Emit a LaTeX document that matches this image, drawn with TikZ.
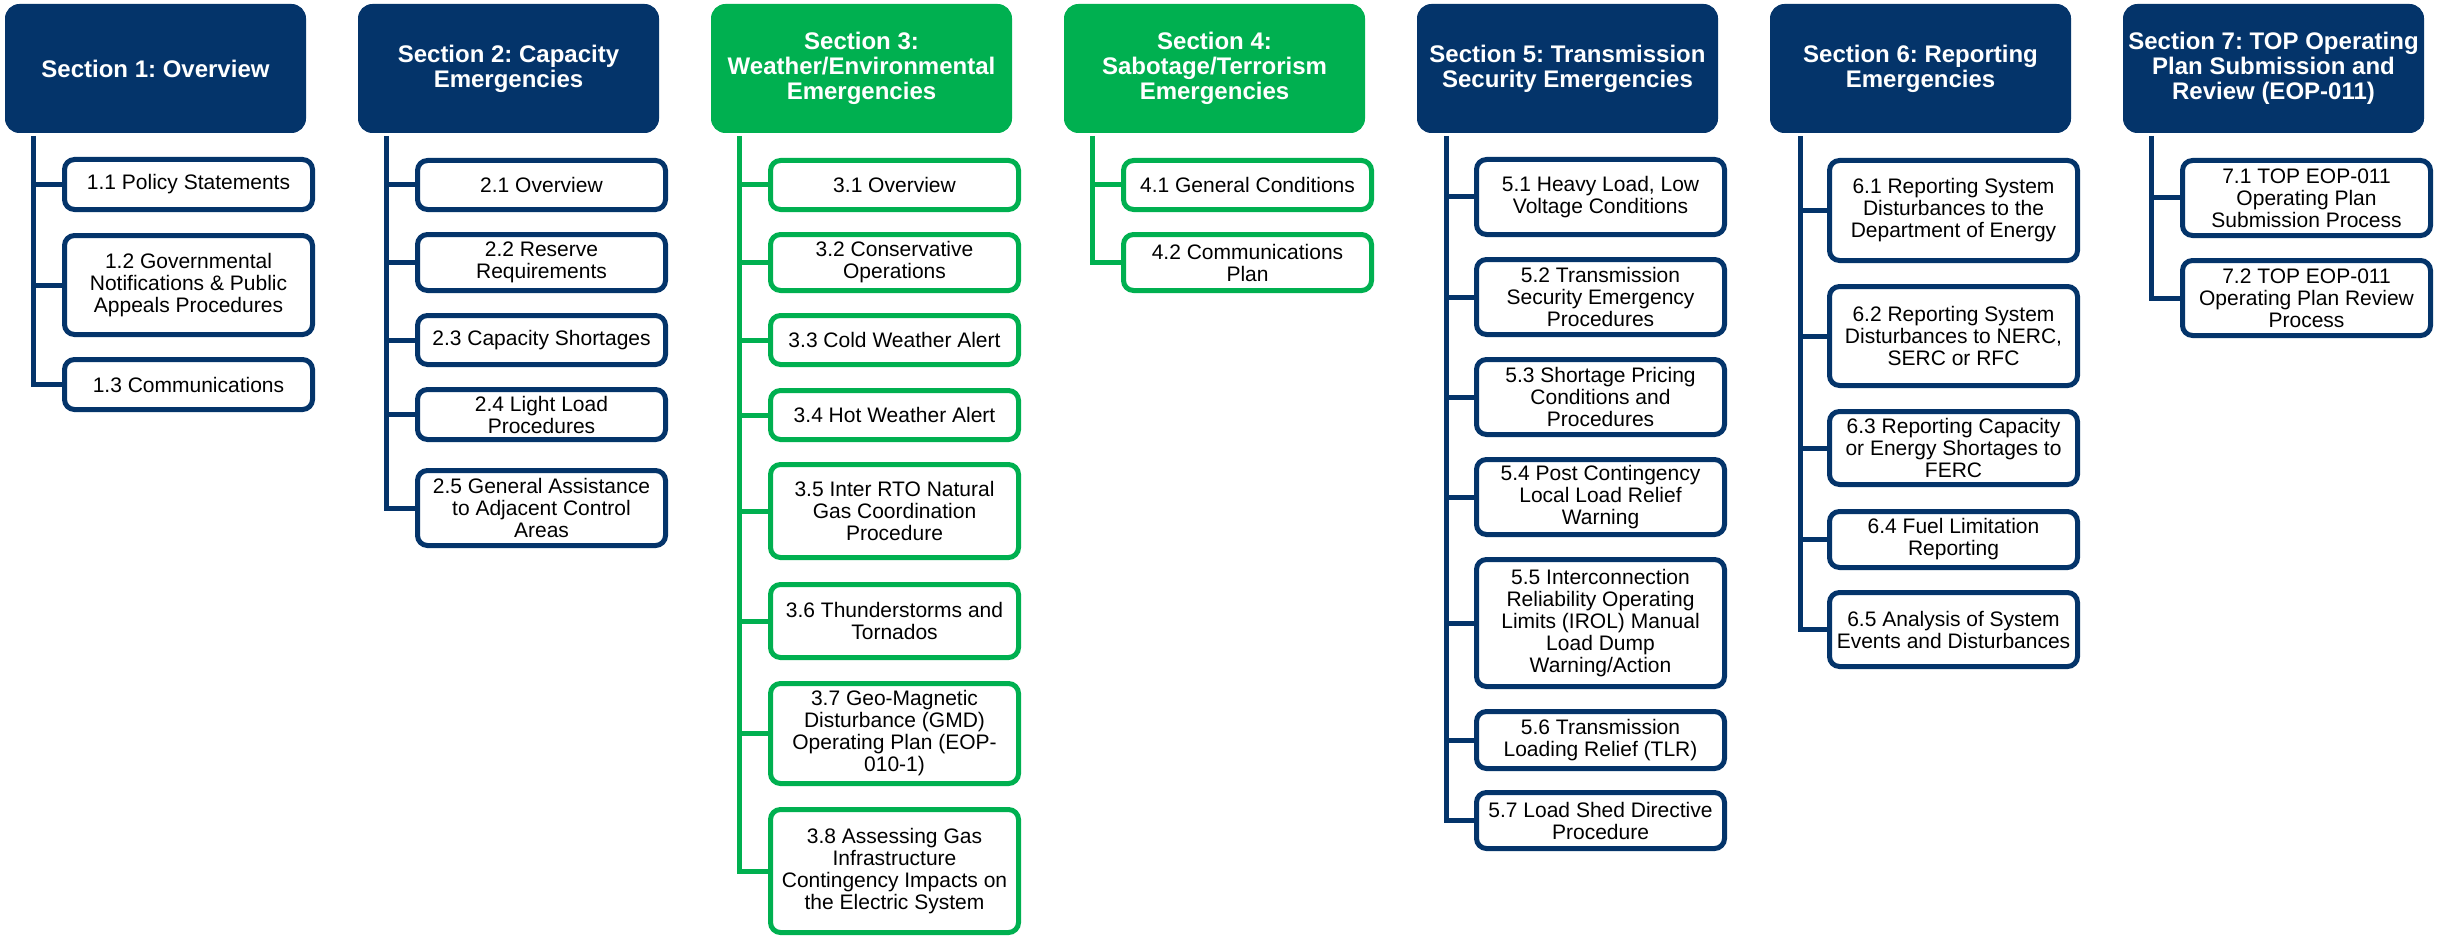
\documentclass[tikz,border=0pt]{standalone}
\usepackage{fontspec}
\setmainfont{Liberation Sans}
\frenchspacing
\definecolor{navy}{HTML}{04346A}
\definecolor{leaf}{HTML}{00B050}

\begin{document}
\begin{tikzpicture}[x=1pt, y=-1pt,
      head/.style={fill=#1, draw=#1, line width=1pt, rounded corners=14pt, minimum width=300pt, minimum height=128pt,
        align=center, text=white, font=\fontsize{24}{25}\selectfont\bfseries, inner sep=2pt},
      sub/.style={draw=#1, fill=white, line width=5pt, rounded corners=10pt, minimum width=248pt,
        align=center, font=\fontsize{21}{22}\selectfont, inner sep=2pt},
      stem/.style={draw=#1, line width=5pt}]

    \useasboundingbox (0,0) rectangle (2440,936);

    % Section 1
    \node[head=navy] (h1) at (155.5,68.5) {Section 1: Overview};
    \node[sub=navy, minimum height=50pt] (s11) at (188.5,184.5) {1.1 Policy Statements};
    \node[sub=navy, minimum height=99pt] (s12) at (188.5,285) {1.2 Governmental\\Notifications \& Public\\Appeals Procedures};
    \node[sub=navy, minimum height=50pt] (s13) at (188.5,384.5) {1.3 Communications};
    \coordinate (t1) at (33,136);
    \draw[stem=navy] (t1) |- (s11.west) (t1) |- (s12.west) (t1) |- (s13.west);

    % Section 2
    \node[head=navy] (h2) at (508.5,68.5) {Section 2: Capacity\\Emergencies};
    \node[sub=navy, minimum height=49pt] (s21) at (541.5,185) {2.1 Overview};
    \node[sub=navy, minimum height=56pt] (s22) at (541.5,262.5) {2.2 Reserve\\Requirements};
    \node[sub=navy, minimum height=49pt] (s23) at (541.5,340) {2.3 Capacity Shortages};
    \node[sub=navy, minimum height=50pt] (s24) at (541.5,414.5) {2.4 Light Load\\Procedures};
    \node[sub=navy, minimum height=75pt] (s25) at (541.5,508) {2.5 General Assistance\\to Adjacent Control\\Areas};
    \coordinate (t2) at (386,136);
    \draw[stem=navy] (t2) |- (s21.west) (t2) |- (s22.west) (t2) |- (s23.west) (t2) |- (s24.west) (t2) |- (s25.west);

    % Section 3
    \node[head=leaf] (h3) at (861.5,68.5) {Section 3:\\Weather/Environmental\\Emergencies};
    \node[sub=leaf, minimum height=49pt] (s31) at (894.5,185) {3.1 Overview};
    \node[sub=leaf, minimum height=56pt] (s32) at (894.5,262.5) {3.2 Conservative\\Operations};
    \node[sub=leaf, minimum height=49pt] (s33) at (894.5,340) {3.3 Cold Weather Alert};
    \node[sub=leaf, minimum height=49pt] (s34) at (894.5,415) {3.4 Hot Weather Alert};
    \node[sub=leaf, minimum height=93pt] (s35) at (894.5,511) {3.5 Inter RTO Natural\\Gas Coordination\\Procedure};
    \node[sub=leaf, minimum height=73pt] (s36) at (894.5,621) {3.6 Thunderstorms and\\Tornados};
    \node[sub=leaf, minimum height=100pt] (s37) at (894.5,733.5) {3.7 Geo-Magnetic\\Disturbance (GMD)\\Operating Plan (EOP-\\010-1)};
    \node[sub=leaf, minimum height=123pt] (s38) at (894.5,871) {3.8 Assessing Gas\\Infrastructure\\Contingency Impacts on\\the Electric System};
    \coordinate (t3) at (739,136);
    \draw[stem=leaf] (t3) |- (s31.west) (t3) |- (s32.west) (t3) |- (s33.west) (t3) |- (s34.west)
      (t3) |- (s35.west) (t3) |- (s36.west) (t3) |- (s37.west) (t3) |- (s38.west);

    % Section 4
    \node[head=leaf] (h4) at (1214.5,68.5) {Section 4:\\Sabotage/Terrorism\\Emergencies};
    \node[sub=leaf, minimum height=49pt] (s41) at (1247.5,185) {4.1 General Conditions};
    \node[sub=leaf, minimum height=56pt] (s42) at (1247.5,262.5) {4.2 Communications\\Plan};
    \coordinate (t4) at (1092,136);
    \draw[stem=leaf] (t4) |- (s41.west) (t4) |- (s42.west);

    % Section 5
    \node[head=navy] (h5) at (1567.5,68.5) {Section 5: Transmission\\Security Emergencies};
    \node[sub=navy, minimum height=75pt] (s51) at (1600.5,197) {5.1 Heavy Load, Low\\Voltage Conditions};
    \node[sub=navy, minimum height=75pt] (s52) at (1600.5,297) {5.2 Transmission\\Security Emergency\\Procedures};
    \node[sub=navy, minimum height=75pt] (s53) at (1600.5,397) {5.3 Shortage Pricing\\Conditions and\\Procedures};
    \node[sub=navy, minimum height=75pt] (s54) at (1600.5,497) {5.4 Post Contingency\\Local Load Relief\\Warning};
    \node[sub=navy, minimum height=127pt] (s55) at (1600.5,623) {5.5 Interconnection\\Reliability Operating\\Limits (IROL) Manual\\Load Dump\\Warning/Action};
    \node[sub=navy, minimum height=57pt] (s56) at (1600.5,740) {5.6 Transmission\\Loading Relief (TLR)};
    \node[sub=navy, minimum height=56pt] (s57) at (1600.5,820.5) {5.7 Load Shed Directive\\Procedure};
    \coordinate (t5) at (1446,136);
    \draw[stem=navy] (t5) |- (s51.west) (t5) |- (s52.west) (t5) |- (s53.west) (t5) |- (s54.west)
      (t5) |- (s55.west) (t5) |- (s56.west) (t5) |- (s57.west);

    % Section 6
    \node[head=navy] (h6) at (1920.5,68.5) {Section 6: Reporting\\Emergencies};
    \node[sub=navy, minimum height=100pt] (s61) at (1953.5,210.5) {6.1 Reporting System\\Disturbances to the\\Department of Energy};
    \node[sub=navy, minimum height=99pt] (s62) at (1953.5,336) {6.2 Reporting System\\Disturbances to NERC,\\SERC or RFC};
    \node[sub=navy, minimum height=73pt] (s63) at (1953.5,448) {6.3 Reporting Capacity\\or Energy Shortages to\\FERC};
    \node[sub=navy, minimum height=56pt] (s64) at (1953.5,539.5) {6.4 Fuel Limitation\\Reporting};
    \node[sub=navy, minimum height=74pt] (s65) at (1953.5,629.5) {6.5 Analysis of System\\Events and Disturbances};
    \coordinate (t6) at (1800,136);
    \draw[stem=navy] (t6) |- (s61.west) (t6) |- (s62.west) (t6) |- (s63.west) (t6) |- (s64.west) (t6) |- (s65.west);

    % Section 7
    \node[head=navy] (h7) at (2273.5,68.5) {Section 7: TOP Operating\\Plan Submission and\\Review (EOP-011)};
    \node[sub=navy, minimum height=75pt] (s71) at (2306.5,198) {7.1 TOP EOP-011\\Operating Plan\\Submission Process};
    \node[sub=navy, minimum height=75pt] (s72) at (2306.5,298) {7.2 TOP EOP-011\\Operating Plan Review\\Process};
    \coordinate (t7) at (2151,136);
    \draw[stem=navy] (t7) |- (s71.west) (t7) |- (s72.west);
  \end{tikzpicture}
\end{document}
